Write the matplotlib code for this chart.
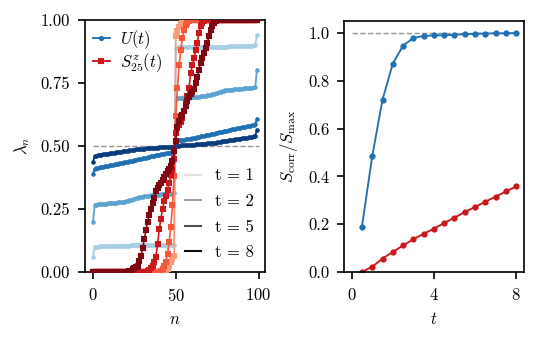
import numpy as np
import matplotlib
matplotlib.use("Agg")
import matplotlib.pyplot as plt
from matplotlib.lines import Line2D

plt.rcParams.update({
    'font.family': 'serif',
    'font.serif': ['cmr10'],
    'mathtext.fontset': 'cm',
    'axes.formatter.use_mathtext': True,
    'font.size': 8,
})

# Data: eigenvalues lambda_n of U(t) (blue) and S^z_25(t) (red), n = 0..99
times = [1, 2, 5, 8]

U_t1 = [0.060, 0.100, 0.101, 0.101, 0.102, 0.102, 0.102, 0.103, 0.103, 0.103,
        0.103, 0.104, 0.104, 0.104, 0.104, 0.104, 0.105, 0.105, 0.105, 0.105,
        0.105, 0.105, 0.105, 0.106, 0.106, 0.106, 0.106, 0.106, 0.106, 0.106,
        0.106, 0.106, 0.107, 0.107, 0.107, 0.107, 0.107, 0.107, 0.107, 0.107,
        0.107, 0.108, 0.108, 0.108, 0.108, 0.108, 0.108, 0.108, 0.109, 0.109,
        0.891, 0.891, 0.892, 0.892, 0.892, 0.892, 0.892, 0.892, 0.893, 0.893,
        0.893, 0.893, 0.893, 0.893, 0.893, 0.893, 0.894, 0.894, 0.894, 0.894,
        0.894, 0.894, 0.894, 0.894, 0.894, 0.895, 0.895, 0.895, 0.895, 0.895,
        0.895, 0.895, 0.896, 0.896, 0.896, 0.896, 0.896, 0.897, 0.897, 0.897,
        0.897, 0.898, 0.898, 0.898, 0.899, 0.899, 0.899, 0.900, 0.900, 0.940]

U_t2 = [0.197, 0.266, 0.267, 0.268, 0.268, 0.269, 0.270, 0.270, 0.271, 0.272,
        0.272, 0.273, 0.274, 0.274, 0.275, 0.276, 0.277, 0.277, 0.278, 0.279,
        0.280, 0.282, 0.284, 0.286, 0.288, 0.290, 0.292, 0.294, 0.296, 0.298,
        0.299, 0.300, 0.301, 0.302, 0.303, 0.304, 0.305, 0.305, 0.306, 0.307,
        0.307, 0.308, 0.308, 0.309, 0.309, 0.310, 0.310, 0.311, 0.311, 0.312,
        0.688, 0.689, 0.689, 0.690, 0.690, 0.691, 0.691, 0.692, 0.692, 0.693,
        0.693, 0.694, 0.695, 0.695, 0.696, 0.697, 0.698, 0.699, 0.700, 0.701,
        0.702, 0.704, 0.706, 0.708, 0.710, 0.712, 0.714, 0.716, 0.718, 0.720,
        0.721, 0.722, 0.723, 0.723, 0.724, 0.725, 0.726, 0.726, 0.727, 0.728,
        0.728, 0.729, 0.730, 0.730, 0.731, 0.732, 0.732, 0.733, 0.734, 0.803]

U_t5 = [0.389, 0.410, 0.412, 0.413, 0.415, 0.416, 0.418, 0.419, 0.420, 0.421,
        0.423, 0.424, 0.425, 0.427, 0.428, 0.429, 0.431, 0.432, 0.433, 0.435,
        0.436, 0.438, 0.439, 0.441, 0.442, 0.444, 0.445, 0.447, 0.448, 0.450,
        0.451, 0.453, 0.454, 0.456, 0.457, 0.459, 0.460, 0.462, 0.463, 0.465,
        0.466, 0.468, 0.469, 0.470, 0.471, 0.472, 0.473, 0.474, 0.476, 0.477,
        0.520, 0.521, 0.522, 0.523, 0.524, 0.525, 0.526, 0.527, 0.528, 0.529,
        0.531, 0.532, 0.533, 0.535, 0.536, 0.538, 0.539, 0.540, 0.542, 0.543,
        0.545, 0.546, 0.548, 0.549, 0.551, 0.552, 0.554, 0.555, 0.557, 0.558,
        0.560, 0.561, 0.563, 0.564, 0.566, 0.567, 0.568, 0.570, 0.571, 0.572,
        0.574, 0.575, 0.577, 0.578, 0.580, 0.581, 0.583, 0.584, 0.586, 0.609]

U_t8 = [0.435, 0.460, 0.462, 0.463, 0.464, 0.466, 0.467, 0.468, 0.469, 0.470,
        0.471, 0.472, 0.473, 0.474, 0.475, 0.476, 0.477, 0.478, 0.479, 0.480,
        0.481, 0.482, 0.483, 0.484, 0.485, 0.486, 0.487, 0.487, 0.488, 0.489,
        0.489, 0.490, 0.491, 0.491, 0.492, 0.492, 0.493, 0.493, 0.494, 0.494,
        0.495, 0.495, 0.496, 0.496, 0.496, 0.497, 0.497, 0.498, 0.498, 0.499,
        0.501, 0.502, 0.502, 0.503, 0.503, 0.504, 0.504, 0.504, 0.505, 0.505,
        0.506, 0.506, 0.507, 0.507, 0.508, 0.508, 0.509, 0.510, 0.510, 0.511,
        0.511, 0.512, 0.513, 0.513, 0.514, 0.515, 0.516, 0.517, 0.518, 0.519,
        0.520, 0.521, 0.522, 0.523, 0.524, 0.525, 0.526, 0.527, 0.528, 0.529,
        0.530, 0.531, 0.532, 0.533, 0.534, 0.536, 0.537, 0.538, 0.540, 0.565]

S_t1 = ([0.0] * 44
        + [0.005, 0.012, 0.025, 0.040, 0.052, 0.062,
           0.938, 0.955, 0.972, 0.985, 0.993, 0.997]
        + [1.0] * 44)

S_t2 = ([0.0] * 41
        + [0.005, 0.012, 0.022, 0.040, 0.070, 0.120, 0.180, 0.265, 0.380,
           0.620, 0.730, 0.820, 0.880, 0.930, 0.960, 0.980, 0.990, 0.995]
        + [1.0] * 41)

S_t5 = ([0.0] * 33
        + [0.003, 0.008, 0.015, 0.024, 0.040, 0.060, 0.110, 0.170, 0.210,
           0.250, 0.280, 0.300, 0.325, 0.355, 0.385, 0.405, 0.450,
           0.550, 0.570, 0.585, 0.595, 0.610, 0.640, 0.670, 0.700, 0.730,
           0.790, 0.820, 0.850, 0.880, 0.910, 0.950, 0.975, 0.990, 0.996]
        + [1.0] * 32)

S_t8 = ([0.0] * 22
        + [0.002, 0.005, 0.010, 0.015, 0.020, 0.025, 0.045, 0.065, 0.095,
           0.130, 0.165, 0.200, 0.225, 0.250, 0.275, 0.295, 0.320, 0.335,
           0.345, 0.355, 0.365, 0.378, 0.390, 0.400, 0.410, 0.420, 0.440,
           0.480,
           0.520, 0.575, 0.600, 0.615, 0.625, 0.640, 0.660, 0.680, 0.695,
           0.705, 0.715, 0.725, 0.750, 0.775, 0.800, 0.830, 0.850, 0.870,
           0.890, 0.910, 0.935, 0.960, 0.978, 0.990, 0.996]
        + [1.0] * 25)

U_curves = [U_t1, U_t2, U_t5, U_t8]
S_curves = [S_t1, S_t2, S_t5, S_t8]

# Right panel: normalised correlation entropy vs time
t_vals = [0.5, 1.0, 1.5, 2.0, 2.5, 3.0, 3.5, 4.0,
          4.5, 5.0, 5.5, 6.0, 6.5, 7.0, 7.5, 8.0]
Scorr_U = [0.190, 0.485, 0.721, 0.872, 0.947, 0.979, 0.988, 0.990,
           0.991, 0.993, 0.995, 0.997, 0.998, 0.999, 0.999, 1.000]
Scorr_S = [0.000, 0.022, 0.056, 0.084, 0.111, 0.137, 0.160, 0.181,
           0.205, 0.227, 0.251, 0.272, 0.294, 0.315, 0.337, 0.358]

levels = [0.35, 0.55, 0.75, 0.95]
blues = plt.get_cmap('Blues')
reds = plt.get_cmap('Reds')
greys = plt.get_cmap('Greys')

fig = plt.figure(figsize=(3.6, 340 / 150), dpi=150)
ax1 = fig.add_axes([0.157, 0.2, 0.334, 0.741])
ax2 = fig.add_axes([0.637, 0.2, 0.333, 0.738])

n = np.arange(len(U_t1))

# Left panel
ax1.hlines(0.5, 0, 100, colors='#999999', linestyles='--', lw=0.7, zorder=1)
for curve, lv in zip(U_curves, levels):
    ax1.plot(n, curve, '-o', color=blues(lv), lw=0.9, ms=1.2, zorder=2)
for curve, lv in zip(S_curves, levels):
    ax1.plot(n, curve, '-s', color=reds(lv), lw=0.8, ms=1.5, zorder=3)

ax1.set_xlim(-4.95, 103.95)
ax1.set_ylim(0, 1)
ax1.set_xticks([0, 50, 100])
ax1.set_yticks([0, 0.25, 0.5, 0.75, 1.0])
ax1.set_yticklabels(['0.00', '0.25', '0.50', '0.75', '1.00'])
ax1.set_xlabel('$n$')
ax1.set_ylabel(r'$\lambda_n$')

# Legends
type_handles = [
    Line2D([], [], color=blues(0.75), marker='o', ms=1.5, lw=0.9),
    Line2D([], [], color=reds(0.75), marker='s', ms=1.5, lw=0.9),
]
leg1 = ax1.legend(type_handles, ['$U(t)$', '$S^z_{25}(t)$'], loc='upper left',
                  frameon=False, handlelength=1.0, handletextpad=0.6,
                  borderaxespad=0.1, labelspacing=0.0)
ax1.add_artist(leg1)

time_handles = [Line2D([], [], color=greys(lv), lw=1.0) for lv in [0.2, 0.45, 0.75, 0.95]]
ax1.legend(time_handles, ['t = %d' % t for t in times], loc='lower right',
           frameon=False, handlelength=1.0, handletextpad=0.8,
           borderaxespad=0.3, labelspacing=0.62)

# Right panel
ax2.hlines(1.0, 0, 8, colors='#999999', linestyles='--', lw=0.7, zorder=1)
ax2.plot(t_vals, Scorr_U, '-o', color=blues(0.75), lw=0.9, ms=2.0)
ax2.plot(t_vals, Scorr_S, '-o', color=reds(0.75), lw=0.9, ms=2.0)
ax2.set_xlim(-0.375, 8.375)
ax2.set_ylim(0, 1.05)
ax2.set_xticks([0, 4, 8])
ax2.set_yticks([0, 0.2, 0.4, 0.6, 0.8, 1.0])
ax2.set_yticklabels(['0.0', '0.2', '0.4', '0.6', '0.8', '1.0'])
ax2.set_xlabel('$t$')
ax2.set_ylabel(r'$S_{\rm corr}/S_{\rm max}$')

fig.savefig('out.png', dpi=150)
